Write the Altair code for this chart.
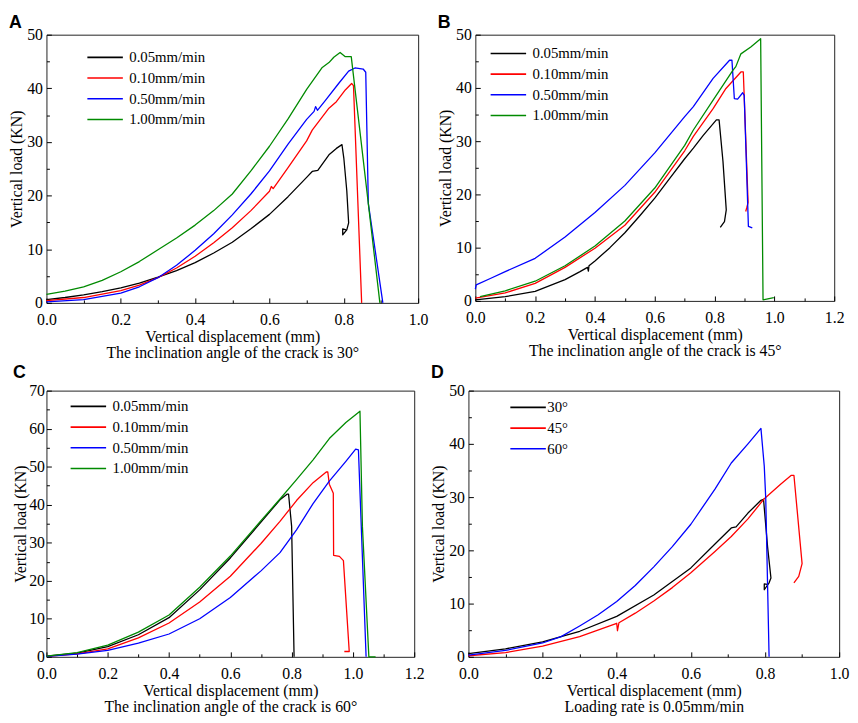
import altair as alt
import pandas as pd

SERIF = "Liberation Serif"
SANS = "Liberation Sans"

rates = ["0.05mm/min", "0.10mm/min", "0.50mm/min", "1.00mm/min"]
angles = ["30°", "45°", "60°"]
rate_colors = ["#000000", "#ff0000", "#0000ff", "#008a00"]
angle_colors = ["#000000", "#ff0000", "#0000ff"]

# ---------------- Panel A (crack angle 30°) ----------------
a_x_005 = [0, 0.05, 0.1, 0.15, 0.2, 0.25, 0.3, 0.35, 0.4, 0.45, 0.5, 0.55, 0.6, 0.65, 0.7, 0.715, 0.73, 0.76, 0.78, 0.795, 0.8, 0.808, 0.813, 0.808, 0.797, 0.797, 0.806]
a_y_005 = [0.6, 1.0, 1.5, 2.1, 2.8, 3.7, 4.8, 6.0, 7.5, 9.3, 11.3, 13.8, 16.5, 19.8, 23.4, 24.5, 24.7, 27.6, 28.8, 29.5, 27.0, 20.9, 14.9, 13.6, 12.7, 13.8, 13.6]
a_x_010 = [0, 0.1, 0.2, 0.25, 0.3, 0.35, 0.4, 0.45, 0.5, 0.55, 0.6, 0.605, 0.61, 0.65, 0.671, 0.7, 0.715, 0.76, 0.78, 0.804, 0.821, 0.826, 0.848]
a_y_010 = [0.4, 1.0, 2.3, 3.3, 4.7, 6.5, 8.7, 11.2, 14.0, 17.2, 20.8, 21.7, 21.3, 25.2, 27.3, 30.2, 32.2, 36.3, 37.5, 39.7, 40.9, 40.5, 0]
a_x_050 = [0, 0.1, 0.2, 0.25, 0.3, 0.35, 0.4, 0.45, 0.5, 0.55, 0.6, 0.65, 0.7, 0.72, 0.724, 0.729, 0.75, 0.786, 0.813, 0.83, 0.852, 0.859, 0.866, 0.905]
a_y_050 = [0.2, 0.6, 1.8, 3.0, 4.7, 7.0, 9.8, 12.9, 16.4, 20.3, 24.6, 29.6, 34.2, 35.7, 36.6, 35.9, 37.7, 40.9, 43.2, 43.8, 43.6, 43.0, 18.5, 0]
a_x_100 = [0, 0.05, 0.1, 0.15, 0.2, 0.25, 0.3, 0.35, 0.4, 0.45, 0.5, 0.55, 0.6, 0.65, 0.7, 0.742, 0.76, 0.773, 0.79, 0.804, 0.82, 0.897]
a_y_100 = [1.6, 2.2, 3.0, 4.2, 5.8, 7.7, 9.9, 12.1, 14.5, 17.2, 20.3, 24.6, 29.2, 34.3, 39.8, 43.9, 44.8, 45.8, 46.7, 45.9, 45.9, 0]

# ---------------- Panel B (crack angle 45°) ----------------
b_x_005 = [0, 0.1, 0.2, 0.3, 0.35, 0.375, 0.378, 0.38, 0.4, 0.45, 0.5, 0.55, 0.6, 0.65, 0.7, 0.729, 0.762, 0.806, 0.815, 0.828, 0.839, 0.833, 0.819]
b_y_005 = [0.2, 0.8, 1.8, 4.0, 5.5, 6.3, 5.6, 6.6, 7.5, 10.0, 12.8, 16.0, 19.3, 23.0, 26.7, 28.7, 31.1, 34.0, 34.0, 26.2, 17.1, 14.9, 13.8]
b_x_010 = [0, 0.1, 0.2, 0.3, 0.4, 0.5, 0.6, 0.7, 0.729, 0.795, 0.838, 0.888, 0.896, 0.912, 0.908, 0.904]
b_y_010 = [0.5, 1.5, 3.3, 6.3, 9.9, 14.2, 20.4, 28.2, 30.9, 36.1, 39.9, 43.0, 43.0, 18.5, 17.6, 16.8]
b_x_050 = [0, 0.003, 0.05, 0.1, 0.2, 0.3, 0.4, 0.5, 0.6, 0.7, 0.729, 0.795, 0.85, 0.858, 0.866, 0.877, 0.894, 0.899, 0.913, 0.926]
b_y_050 = [2.2, 3.0, 4.2, 5.5, 8.0, 12.0, 16.6, 21.7, 27.8, 34.6, 36.5, 41.8, 45.2, 45.2, 38.0, 37.9, 39.1, 38.6, 14.0, 13.7]
b_x_100 = [0.016, 0.1, 0.2, 0.3, 0.4, 0.5, 0.6, 0.7, 0.729, 0.795, 0.861, 0.871, 0.888, 0.921, 0.954, 0.962, 0.998]
b_y_100 = [0.8, 1.9, 3.7, 6.6, 10.3, 15.0, 21.2, 29.2, 32.1, 37.7, 43.3, 44.0, 46.4, 47.7, 49.25, 0.2, 0.6]

# ---------------- Panel C (crack angle 60°) ----------------
c_x_005 = [0, 0.1, 0.2, 0.3, 0.4, 0.5, 0.6, 0.7, 0.762, 0.786, 0.79, 0.8, 0.808]
c_y_005 = [0.2, 1.0, 2.7, 5.8, 10.3, 17.6, 26.0, 35.4, 41.3, 42.8, 42.8, 34.3, 0]
c_x_010 = [0, 0.1, 0.2, 0.3, 0.4, 0.5, 0.6, 0.7, 0.762, 0.816, 0.87, 0.913, 0.918, 0.923, 0.936, 0.937, 0.956, 0.969, 0.988, 0.972]
c_y_010 = [0.1, 0.8, 2.1, 5.0, 8.9, 14.4, 21.2, 29.8, 35.6, 41.1, 45.8, 48.6, 48.6, 45.4, 43.0, 26.7, 26.4, 25.3, 1.4, 1.4]
c_x_050 = [0, 0.1, 0.2, 0.3, 0.4, 0.5, 0.6, 0.7, 0.762, 0.816, 0.87, 0.923, 0.977, 1.009, 1.018, 1.043]
c_y_050 = [0.1, 0.7, 1.7, 3.6, 6.0, 10.0, 15.6, 22.6, 27.4, 33.4, 40.3, 46.2, 51.4, 54.6, 54.4, 0]
c_x_100 = [0, 0.1, 0.2, 0.3, 0.4, 0.5, 0.6, 0.7, 0.762, 0.816, 0.87, 0.923, 0.977, 1.023, 1.031, 1.052, 1.074]
c_y_100 = [0.2, 1.1, 3.1, 6.5, 11.0, 18.3, 26.5, 35.8, 41.5, 46.6, 51.8, 57.4, 61.6, 64.6, 34.3, 0, 0]

# ---------------- Panel D (loading rate 0.05mm/min) ----------------
d_x_30 = [0, 0.1, 0.2, 0.3, 0.4, 0.5, 0.6, 0.665, 0.709, 0.722, 0.754, 0.789, 0.796, 0.807, 0.816, 0.811, 0.798, 0.798, 0.806]
d_y_30 = [0.6, 1.5, 2.8, 4.8, 7.6, 11.6, 16.7, 21.2, 24.2, 24.4, 27.0, 29.4, 29.6, 20.6, 14.8, 13.9, 12.6, 13.7, 13.6]
d_x_45 = [0, 0.1, 0.2, 0.3, 0.4, 0.402, 0.406, 0.45, 0.5, 0.55, 0.6, 0.665, 0.709, 0.754, 0.798, 0.842, 0.871, 0.878, 0.9, 0.891, 0.878]
d_y_45 = [0.2, 0.8, 2.0, 3.8, 6.3, 4.9, 6.4, 8.2, 10.5, 13.0, 15.8, 19.8, 22.6, 25.9, 29.7, 32.4, 34.1, 34.1, 17.5, 15.1, 13.9]
d_x_60 = [0, 0.1, 0.2, 0.25, 0.3, 0.35, 0.4, 0.45, 0.5, 0.55, 0.6, 0.665, 0.709, 0.754, 0.789, 0.798, 0.802, 0.811]
d_y_60 = [0.3, 1.2, 2.6, 3.8, 5.8, 7.9, 10.4, 13.4, 16.9, 20.7, 24.9, 31.5, 36.4, 40.0, 42.9, 35.8, 29.7, 0]

x_title = "Vertical displacement (mm)"
y_title = "Vertical load (KN)"


def panel(letter, names, colors, series, xmax, ymax, subtitle, W, H,
          leg_x, leg_y, lab_off, title_off, y_lab_pad=4, y_title_pad=2):
    rows = []
    for name, (xs, ys) in zip(names, series):
        for i, (xv, yv) in enumerate(zip(xs, ys)):
            rows.append({"s": name, "x": xv, "y": yv, "i": i})
    df = pd.DataFrame(rows)

    nx = int(round(xmax / 0.1))
    x_major = [round(k * 0.1, 1) for k in range(0, nx + 1, 2)]
    x_minor = [round(k * 0.1, 1) for k in range(0, nx + 1)]
    y_major = list(range(0, ymax + 1, 10))
    y_minor = list(range(0, ymax + 1, 5))

    xs = alt.Scale(domain=[0, xmax], nice=False, zero=False)
    ys = alt.Scale(domain=[0, ymax], nice=False, zero=False)

    lab = dict(labelFont=SERIF, labelFontSize=16, labelColor="black",
               titleFont=SERIF, titleFontSize=16, titleColor="black",
               titleFontWeight="normal", grid=False, domain=False,
               labelFlush=False, ticks=False, tickSize=0)

    base = alt.Chart(df)
    lines = base.mark_line(strokeWidth=1.3, strokeJoin="round").encode(
        x=alt.X("x:Q", scale=xs, axis=alt.Axis(
            orient="bottom", values=x_major, format=".1f", labelPadding=9,
            title=[x_title, subtitle], titlePadding=1, titleLineHeight=16, **lab)),
        y=alt.Y("y:Q", scale=ys, axis=alt.Axis(
            orient="left", values=y_major, labelPadding=y_lab_pad,
            title=y_title, titlePadding=y_title_pad, **lab)),
        color=alt.Color("s:N", scale=alt.Scale(domain=names, range=colors),
                        legend=alt.Legend(
                            orient="none", legendX=leg_x, legendY=leg_y,
                            title=None, symbolType="M-3,0H3", symbolSize=144,
                            symbolStrokeWidth=1.6, labelFont=SERIF,
                            labelFontSize=15, labelColor="black",
                            labelOffset=lab_off, rowPadding=5, padding=0)),
        order=alt.Order("i:Q"),
    )

    tick_common = dict(labels=False, domain=False, grid=False, title=None,
                       tickColor="black", tickWidth=1)
    inner_ticks = base.mark_line(strokeOpacity=0).encode(
        x=alt.X("x:Q", scale=xs, axis=alt.Axis(
            orient="top", offset=-H, values=x_minor,
            tickSize={"condition": {"test": "round(datum.value * 10) % 2 == 0", "value": 5}, "value": 3},
            **tick_common)),
        y=alt.Y("y:Q", scale=ys, axis=alt.Axis(
            orient="right", offset=-W, values=y_minor,
            tickSize={"condition": {"test": "datum.value % 10 == 0", "value": 5}, "value": 3},
            **tick_common)),
        detail="s:N",
        order=alt.Order("i:Q"),
    )

    return alt.layer(lines, inner_ticks).resolve_axis(
        x="independent", y="independent"
    ).properties(
        width=W, height=H,
        title=alt.TitleParams(letter, anchor="start", frame="bounds", font=SANS,
                              fontSize=18, fontWeight="bold", color="black",
                              offset=title_off),
    )


pA = panel("A", rates, rate_colors,
           [(a_x_005, a_y_005), (a_x_010, a_y_010), (a_x_050, a_y_050), (a_x_100, a_y_100)],
           1.0, 50, "The inclination angle of the crack is 30°", 377, 272, 52, 15.5, 17, -5)
pB = panel("B", rates, rate_colors,
           [(b_x_005, b_y_005), (b_x_010, b_y_010), (b_x_050, b_y_050), (b_x_100, b_y_100)],
           1.2, 50, "The inclination angle of the crack is 45°", 364, 270, 26, 11.5, 17, -5)
pC = panel("C", rates, rate_colors,
           [(c_x_005, c_y_005), (c_x_010, c_y_010), (c_x_050, c_y_050), (c_x_100, c_y_100)],
           1.2, 70, "The inclination angle of the crack is 60°", 373, 270, 35, 8.5, 17, 1,
           y_lab_pad=2, y_title_pad=0)
pD = panel("D", angles, angle_colors,
           [(d_x_30, d_y_30), (d_x_45, d_y_45), (d_x_60, d_y_60)],
           1.0, 50, "Loading rate is 0.05mm/min", 376, 270, 53, 9.5, 12, 1)

row1 = alt.hconcat(pA, pB, spacing=8).resolve_scale(color="independent")
row2 = alt.hconcat(pC, pD, spacing=5).resolve_scale(color="independent")

chart = alt.vconcat(row1, row2, spacing=2).resolve_scale(
    color="independent"
).properties(padding=0, background="white").configure_view(
    stroke="#222222", strokeWidth=1
)

chart.save("out.html", embed_options={"renderer": "svg", "actions": False})
